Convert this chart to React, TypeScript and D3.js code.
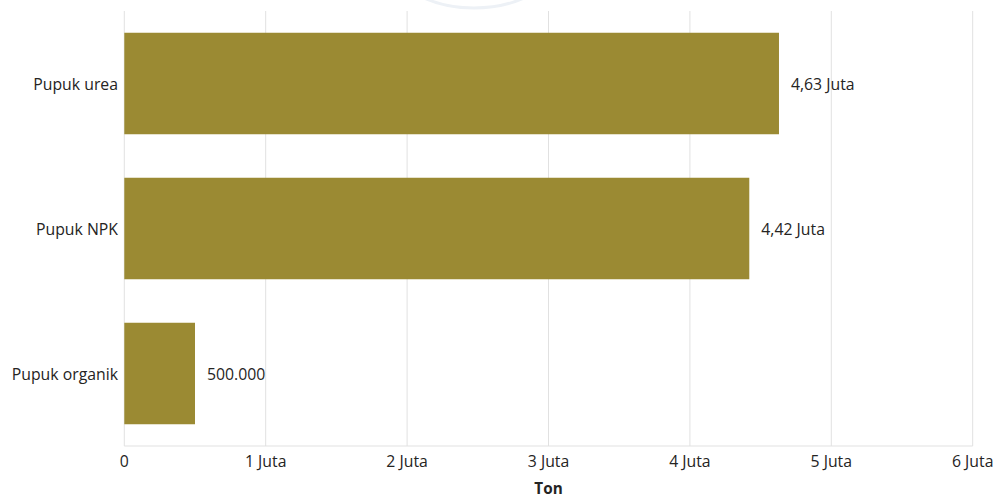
import React from "react";
import * as d3 from "d3";

const categories = ["Pupuk urea", "Pupuk NPK", "Pupuk organik"];
const values = [4.63, 4.42, 0.5];
const valueLabels = ["4,63 Juta", "4,42 Juta", "500.000"];
const ticks = [0, 1, 2, 3, 4, 5, 6];
const tickLabels = ["0", "1 Juta", "2 Juta", "3 Juta", "4 Juta", "5 Juta", "6 Juta"];
const axisTitle = "Ton";

const W = 997, H = 500;
const FONT = "'Segoe UI', 'Open Sans', 'Noto Sans', sans-serif";
const FS = 15.8;

export default function App() {
  const x = d3.scaleLinear().domain([0, 6]).range([124.3, 972.7]);
  const y = d3.scaleBand<string>().domain(categories).range([11, 446]).paddingInner(0.3).paddingOuter(0.15);
  return (
    <svg width={W} height={H} style={{ position: "absolute", left: 0, top: 0, background: "#fff" }}>
      <ellipse cx={474} cy={-60} rx={95} ry={68} fill="none" stroke="#edf1f6" strokeWidth={3} />
      {ticks.map((t, i) => (
        <line key={i} x1={x(t)} x2={x(t)} y1={11} y2={446} stroke="#e1e1e1" strokeWidth={1} />
      ))}
      <line x1={x(0)} x2={x(6)} y1={446} y2={446} stroke="#e1e1e1" />
      {categories.map((c, i) => (
        <g key={c}>
          <rect x={x(0)} y={y(c)} width={x(values[i]) - x(0)} height={y.bandwidth()} fill="#9b8a33" />
          <text x={118} y={(y(c) as number) + y.bandwidth() / 2 + 1} dy="0.35em" textAnchor="end"
            fontFamily={FONT} fontSize={FS} fill="#252423">{c}</text>
          <text x={x(values[i]) + 12} y={(y(c) as number) + y.bandwidth() / 2 + 1} dy="0.35em"
            fontFamily={FONT} fontSize={FS} fill="#252423">{valueLabels[i]}</text>
        </g>
      ))}
      {ticks.map((t, i) => (
        <text key={i} x={x(t)} y={461} dy="0.35em" textAnchor="middle" fontFamily={FONT} fontSize={FS} fill="#252423">
          {tickLabels[i]}
        </text>
      ))}
      <text x={(x(0) + x(6)) / 2} y={489} dy="0.35em" textAnchor="middle" fontFamily={FONT} fontSize={FS - 0.5}
        fontWeight="bold" fill="#252423">{axisTitle}</text>
    </svg>
  );
}
